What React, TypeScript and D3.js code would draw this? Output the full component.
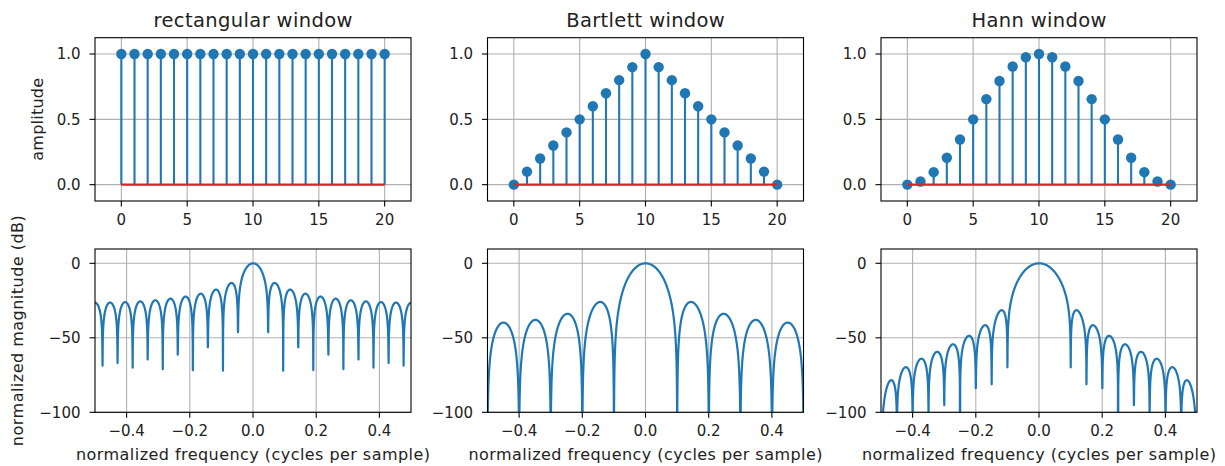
import React, { useEffect, useRef } from "react";
import * as d3 from "d3";

// window samples
const sampleIndex = d3.range(21);
const rectangular = [1, 1, 1, 1, 1, 1, 1, 1, 1, 1, 1, 1, 1, 1, 1, 1, 1, 1, 1, 1, 1];
const bartlett = [0, 0.1, 0.2, 0.3, 0.4, 0.5, 0.6, 0.7, 0.8, 0.9, 1.0, 0.9, 0.8, 0.7, 0.6, 0.5, 0.4, 0.3, 0.2, 0.1, 0];
const hann = [0, 0.0245, 0.0955, 0.2061, 0.3455, 0.5, 0.6545, 0.7939, 0.9045, 0.9755, 1.0, 0.9755, 0.9045, 0.7939, 0.6545, 0.5, 0.3455, 0.2061, 0.0955, 0.0245, 0];

const titles = ["rectangular window", "Bartlett window", "Hann window"];
const titleLengths = [199, 158.6, 135];
const windows = [rectangular, bartlett, hann];

const timeTicks = [0, 5, 10, 15, 20];
const ampTicks = [0, 0.5, 1.0];
const freqTicks = [-0.4, -0.2, 0, 0.2, 0.4];
const dbTicks = [0, -50, -100];

const nfft = 2048;

const width = 1225;
const height = 466;
const lefts = [95, 487.5, 881];
const axW = 316;
const rows = [
  { top: 37.7, bottom: 201 },
  { top: 249, bottom: 412.3 },
];

const blue = "#1f77b4";
const red = "#d62728";
const font = "DejaVu Sans, sans-serif";
const tickSize = 15;
const labelSize = 16;
const minus = (s: string) => s.replace("-", "\u2212");

// magnitude response (dB) of a window: zero padded DFT, fftshifted
function response(w: number[]) {
  const mag: number[] = [];
  for (let k = 0; k < nfft; k++) {
    let re = 0;
    let im = 0;
    for (let n = 0; n < w.length; n++) {
      const a = (-2 * Math.PI * k * n) / nfft;
      re += w[n] * Math.cos(a);
      im += w[n] * Math.sin(a);
    }
    mag.push(Math.hypot(re, im));
  }
  const mx = d3.max(mag) as number;
  const shifted = mag.slice(nfft / 2).concat(mag.slice(0, nfft / 2));
  const freq = d3.range(nfft).map((i) => -0.5 + i / (nfft - 1));
  return shifted.map((m, i) => {
    const db = 20 * Math.log10(m / mx);
    return { f: freq[i], db: isFinite(db) ? Math.max(db, -400) : -400 };
  });
}

function frame(g: any, x: any, y: any, xt: number[], yt: number[], xf: (d: number) => string, yf: (d: number) => string, top: number, bottom: number, left: number) {
  const right = left + axW;
  // grid
  g.selectAll(".gx").data(xt).enter().append("line")
    .attr("x1", (d: number) => x(d)).attr("x2", (d: number) => x(d))
    .attr("y1", top).attr("y2", bottom)
    .attr("stroke", "#b0b0b0").attr("stroke-width", 1.1);
  g.selectAll(".gy").data(yt).enter().append("line")
    .attr("x1", left).attr("x2", right)
    .attr("y1", (d: number) => y(d)).attr("y2", (d: number) => y(d))
    .attr("stroke", "#b0b0b0").attr("stroke-width", 1.1);
  // ticks
  g.selectAll(".tx").data(xt).enter().append("line")
    .attr("x1", (d: number) => x(d)).attr("x2", (d: number) => x(d))
    .attr("y1", bottom).attr("y2", bottom + 5.5)
    .attr("stroke", "#000").attr("stroke-width", 1.1);
  g.selectAll(".lx").data(xt).enter().append("text")
    .attr("x", (d: number) => x(d)).attr("y", bottom + 24)
    .attr("text-anchor", "middle").attr("font-size", tickSize).attr("font-family", font)
    .attr("fill", "#222")
    .text((d: number) => xf(d));
  g.selectAll(".ty").data(yt).enter().append("line")
    .attr("x1", left - 5.5).attr("x2", left)
    .attr("y1", (d: number) => y(d)).attr("y2", (d: number) => y(d))
    .attr("stroke", "#000").attr("stroke-width", 1.1);
  g.selectAll(".ly").data(yt).enter().append("text")
    .attr("x", left - 14.5).attr("y", (d: number) => y(d) + 5.4)
    .attr("text-anchor", "end").attr("font-size", tickSize).attr("font-family", font)
    .attr("fill", "#222")
    .text((d: number) => yf(d));
}

function spines(g: any, top: number, bottom: number, left: number) {
  g.append("rect")
    .attr("x", left).attr("y", top).attr("width", axW).attr("height", bottom - top)
    .attr("fill", "none").attr("stroke", "#000").attr("stroke-width", 1.1);
}

export default function App() {
  const ref = useRef<SVGSVGElement>(null);

  useEffect(() => {
    const svg = d3.select(ref.current);
    svg.selectAll("*").remove();
    svg.append("rect").attr("width", width).attr("height", height).attr("fill", "#fff");

    windows.forEach((w, i) => {
      const left = lefts[i];
      const right = left + axW;

      // top row: stem plot
      const r0 = rows[0];
      const x = d3.scaleLinear().domain([-2, 22]).range([left, right]);
      const y = d3.scaleLinear().domain([-0.125, 1.125]).range([r0.bottom, r0.top]);
      const g = svg.append("g");
      frame(g, x, y, timeTicks, ampTicks, (d) => String(d), (d) => d.toFixed(1), r0.top, r0.bottom, left);

      const pts = sampleIndex.map((n) => ({ n, v: w[n] }));
      g.selectAll(".stem").data(pts).enter().append("line")
        .attr("x1", (d) => x(d.n)).attr("x2", (d) => x(d.n))
        .attr("y1", y(0)).attr("y2", (d) => y(d.v))
        .attr("stroke", blue).attr("stroke-width", 2.1);
      g.selectAll(".mk").data(pts).enter().append("circle")
        .attr("cx", (d) => x(d.n)).attr("cy", (d) => y(d.v)).attr("r", 5.2)
        .attr("fill", blue);
      g.append("line")
        .attr("x1", x(0)).attr("x2", x(20)).attr("y1", y(0)).attr("y2", y(0))
        .attr("stroke", red).attr("stroke-width", 2.1);
      spines(g, r0.top, r0.bottom, left);

      g.append("text")
        .attr("x", (left + right) / 2).attr("y", 27)
        .attr("text-anchor", "middle").attr("font-size", 19.5).attr("font-family", font)
        .attr("fill", "#222")
        .attr("textLength", titleLengths[i]).attr("lengthAdjust", "spacing")
        .text(titles[i]);

      // bottom row: frequency response
      const r1 = rows[1];
      const fx = d3.scaleLinear().domain([-0.5, 0.5]).range([left, right]);
      const fy = d3.scaleLinear().domain([-100, 9.6]).range([r1.bottom, r1.top]);
      const g2 = svg.append("g");
      frame(g2, fx, fy, freqTicks, dbTicks, (d) => minus(d.toFixed(1)), (d) => minus(String(d)), r1.top, r1.bottom, left);

      const clipId = `clip${i}`;
      g2.append("clipPath").attr("id", clipId).append("rect")
        .attr("x", left).attr("y", r1.top).attr("width", axW).attr("height", r1.bottom - r1.top);
      const resp = response(w);
      const line = d3.line<{ f: number; db: number }>().x((d) => fx(d.f)).y((d) => fy(d.db));
      g2.append("path")
        .attr("d", line(resp) as string)
        .attr("clip-path", `url(#${clipId})`)
        .attr("fill", "none").attr("stroke", blue).attr("stroke-width", 2.2)
        .attr("stroke-linejoin", "round");
      spines(g2, r1.top, r1.bottom, left);

      g2.append("text")
        .attr("x", (left + right) / 2).attr("y", 460)
        .attr("text-anchor", "middle").attr("font-size", labelSize).attr("font-family", font)
        .attr("fill", "#222")
        .attr("textLength", 354).attr("lengthAdjust", "spacing")
        .text("normalized frequency (cycles per sample)");
    });

    svg.append("text")
      .attr("transform", `translate(43,${(rows[0].top + rows[0].bottom) / 2}) rotate(-90)`)
      .attr("text-anchor", "middle").attr("font-size", labelSize).attr("font-family", font)
      .attr("fill", "#222")
      .attr("textLength", 82.7).attr("lengthAdjust", "spacing")
      .text("amplitude");
    svg.append("text")
      .attr("transform", `translate(23,${(rows[1].top + rows[1].bottom) / 2}) rotate(-90)`)
      .attr("text-anchor", "middle").attr("font-size", labelSize).attr("font-family", font)
      .attr("fill", "#222")
      .attr("textLength", 231).attr("lengthAdjust", "spacing")
      .text("normalized magnitude (dB)");
  }, []);

  return (
    <svg
      ref={ref}
      width={width}
      height={height}
      style={{ position: "absolute", left: 0, top: 0 }}
    />
  );
}
